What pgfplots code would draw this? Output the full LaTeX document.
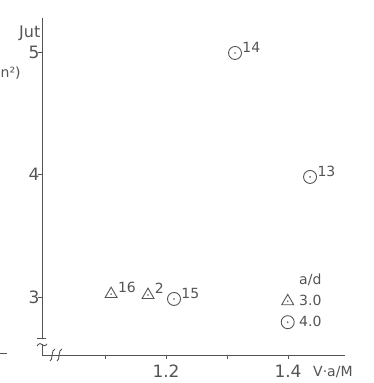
\documentclass[border=0pt]{standalone}
\usepackage{fontspec}
\setmainfont{DejaVu Sans}
\usepackage{pgfplots}
\pgfplotsset{compat=1.18}
\pgfdeclareplotmark{odot}{%
  \pgfpathcircle{\pgfpointorigin}{\pgfplotmarksize}\pgfusepathqstroke
  \pgfpathcircle{\pgfpointorigin}{0.9pt}\pgfusepathqfill}
\pgfdeclareplotmark{tdot}{%
  \pgfpathmoveto{\pgfpointpolar{90}{\pgfplotmarksize}}%
  \pgfpathlineto{\pgfpointpolar{210}{\pgfplotmarksize}}%
  \pgfpathlineto{\pgfpointpolar{330}{\pgfplotmarksize}}%
  \pgfpathclose\pgfusepathqstroke
  \pgfpathcircle{\pgfpointorigin}{0.9pt}\pgfusepathqfill}
\definecolor{ink}{gray}{0.33}
\pgfplotstableread{
x y label
1.110 3.024 16
1.1705 3.016 2
}\triangles
\pgfplotstableread{
x y label
1.2131 2.984 15
1.3131 4.992 14
1.4361 3.98 13
}\circles
\begin{document}
\begin{tikzpicture}
\useasboundingbox (0pt,0pt) rectangle (374pt,383pt);
\begin{axis}[
  at={(42pt,28pt)}, anchor=south west,
  scale only axis, width=303pt, height=339.75pt,
  xmin=0.9967, xmax=1.4934, ymin=2.5265, ymax=5.3,
  axis x line*=bottom, axis y line*=left,
  axis line style={draw=none},
  xtick={1.1,1.2,1.3,1.4}, xticklabels={,1.2,,1.4},
  ytick={3,4,5}, yticklabels={3,4,5},
  tick align=outside, major tick length=4pt,
  tick style={line width=0.9pt, draw=ink},
  xticklabel style={font=\fontsize{17}{17}\selectfont, text=ink, anchor=base, yshift=-18pt},
  yticklabel style={font=\fontsize{17}{17}\selectfont, text=ink, xshift=5pt},
  clip=false,
  legend style={draw=none, fill=none, at={(axis cs:1.3885,3.204)}, anchor=north west,
    font=\fontsize{14}{16}\selectfont, text=ink, row sep=5pt, column sep=3pt, inner sep=0pt},
  legend cell align=left,
  legend image code/.code={\draw[#1,only marks] plot coordinates {(0pt,0pt)};},
]
\addlegendimage{empty legend}\addlegendentry{a/d}
\addplot[only marks, mark=tdot, mark size=6.9pt, line width=0.9pt, draw=ink, fill=ink,
  point meta=explicit symbolic, nodes near coords,
  every node near coord/.append style={anchor=south west, inner sep=0pt, xshift=6.5pt, yshift=1pt,
    font=\fontsize{14}{14}\selectfont, text=ink}]
  table[x=x, y=y, meta=label] {\triangles};
\addlegendentry{3.0}
\addplot[only marks, mark=odot, mark size=6.5pt, line width=0.9pt, draw=ink, fill=ink,
  point meta=explicit symbolic, nodes near coords,
  every node near coord/.append style={anchor=south west, inner sep=0pt, xshift=7pt, yshift=0pt,
    font=\fontsize{14}{14}\selectfont, text=ink}]
  table[x=x, y=y, meta=label] {\circles};
\addlegendentry{4.0}
\end{axis}
% axis lines with break marks
\begin{scope}[line width=0.9pt, draw=ink, color=ink]
\draw (42pt,365pt) -- (42pt,45pt);
\draw (37pt,45pt) -- (46pt,45pt);
\draw (37pt,37pt) .. controls (39pt,40pt) and (41pt,40pt) .. (42pt,38.5pt) .. controls (43pt,37pt) and (45pt,36.5pt) .. (47pt,39pt);
\draw (42pt,38.5pt) -- (42pt,28pt) -- (345pt,28pt);
\draw (50pt,22pt) .. controls (53pt,22pt) and (51pt,34pt) .. (55pt,34pt);
\draw (57pt,22pt) .. controls (60pt,22pt) and (58pt,34pt) .. (62pt,34pt);
\draw (0pt,30pt) -- (7pt,30pt);
\end{scope}
\node[anchor=base east, inner sep=0pt, text=ink, font=\fontsize{16}{16}\selectfont] at (40.5pt,345pt) {Jut};
\node[anchor=base west, inner sep=0pt, text=ink, font=\fontsize{14}{14}\selectfont] at (0.5pt,305pt) {n²)};
\node[anchor=base west, inner sep=0pt, text=ink, font=\fontsize{14}{14}\selectfont] at (313pt,6pt) {V·a/M};
\end{tikzpicture}
\end{document}
